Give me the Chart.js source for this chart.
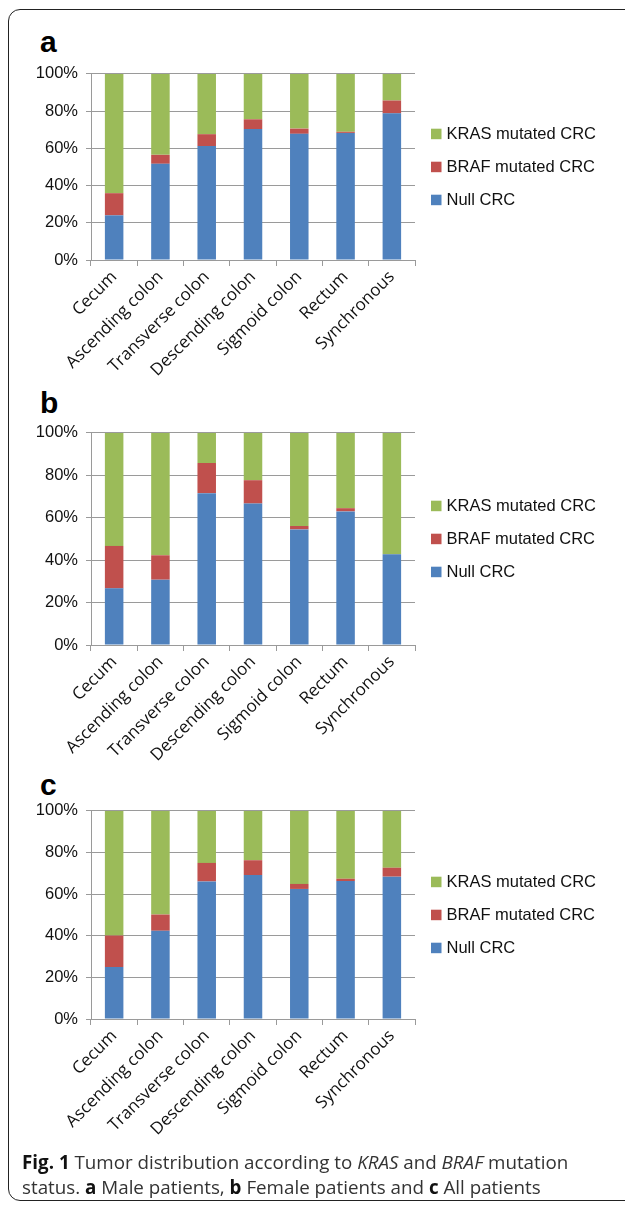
<!DOCTYPE html>
<html>
<head>
<meta charset="utf-8">
<script src="https://cdn.jsdelivr.net/npm/chart.js@4/dist/chart.umd.min.js"></script>
<style>
  html, body { margin: 0; padding: 0; background: #fff; }
  body { width: 625px; height: 1207px; position: relative; overflow: hidden; }
  .frame { position: absolute; left: 8px; top: 9px; width: 700px; height: 1192px;
           border: 1.5px solid #222; border-radius: 12px; box-sizing: border-box; }
  canvas { position: absolute; left: 0; }
  .letter { position: absolute; left: 40px; font: bold 30px "Liberation Sans", Arial, sans-serif;
            line-height: 30px; color: #000; }
  .caption { position: absolute; left: 22px; top: 1150px; width: 610px; white-space: nowrap;
             font: 18.8px "Open Sans", sans-serif; line-height: 25px; color: #333; }
  .caption b { color: #111; }
</style>
</head>
<body>
<div class="frame"></div>
<div class="letter" style="top:27px">a</div>
<div class="letter" style="top:388px">b</div>
<div class="letter" style="top:770px">c</div>
<canvas id="ca" width="625" height="360" style="top:56px"></canvas>
<canvas id="cb" width="625" height="380" style="top:415px"></canvas>
<canvas id="cc" width="625" height="380" style="top:793px"></canvas>
<div class="caption"><b>Fig. 1</b> Tumor distribution according to <i>KRAS</i> and <i>BRAF</i> mutation<br>status. <b>a</b> Male patients, <b>b</b> Female patients and <b>c</b> All patients</div>
<script>
const categories = ["Cecum", "Ascending colon", "Transverse colon", "Descending colon", "Sigmoid colon", "Rectum", "Synchronous"];
const seriesNames = ["Null CRC", "BRAF mutated CRC", "KRAS mutated CRC"];
const seriesColors = ["#4F81BD", "#C0504D", "#9BBB59"];
const yTicks = [0, 20, 40, 60, 80, 100];

// a: Male patients (%)
const maleNull = [24.0, 51.7, 61.2, 70.4, 67.8, 68.3, 78.8];
const maleBraf = [11.9, 4.8, 6.4, 5.2, 2.8, 0.6, 6.9];
const maleKras = [64.1, 43.5, 32.4, 24.4, 29.4, 31.1, 14.3];
// b: Female patients (%)
const femaleNull = [26.7, 30.8, 71.6, 66.7, 54.5, 63.0, 42.8];
const femaleBraf = [20.0, 11.5, 14.2, 11.0, 1.6, 1.5, 0.0];
const femaleKras = [53.3, 57.7, 14.2, 22.3, 43.9, 35.5, 57.2];
// c: All patients (%)
const allNull = [25.0, 42.4, 66.1, 69.2, 62.5, 66.3, 68.4];
const allBraf = [15.1, 7.8, 8.9, 7.1, 2.4, 1.1, 4.3];
const allKras = [59.9, 49.8, 25.0, 23.7, 35.1, 32.6, 27.3];

const tickFont = { family: "'Liberation Sans', Arial, sans-serif", size: 16.5 };
const catFont = { family: "'Open Sans', sans-serif", size: 17 };
const gridColor = "#9a9a9a";

const legendPlugin = {
  id: 'sideLegend',
  afterDraw(chart) {
    const ctx = chart.ctx;
    const ca = chart.chartArea;
    const mid = (ca.top + ca.bottom) / 2;
    const ds = chart.data.datasets.slice().reverse();
    ctx.save();
    ctx.font = "16.5px 'Liberation Sans', Arial, sans-serif";
    ctx.textBaseline = 'middle';
    ctx.textAlign = 'left';
    ds.forEach((d, i) => {
      const y = mid + (i - 1) * 33;
      ctx.fillStyle = d.backgroundColor;
      ctx.fillRect(431, y - 5.25, 10.5, 10.5);
      ctx.fillStyle = '#111';
      ctx.fillText(d.label, 446.5, y + 1);
    });
    ctx.restore();
  }
};

function makeChart(id, values, padTop, xHeight) {
  const datasets = values.map((v, i) => ({
    label: seriesNames[i],
    data: v,
    backgroundColor: seriesColors[i],
    borderWidth: 0,
    barPercentage: 0.4,
    categoryPercentage: 1.0
  }));
  return new Chart(document.getElementById(id), {
    type: 'bar',
    data: { labels: categories, datasets },
    plugins: [legendPlugin],
    options: {
      responsive: false,
      animation: false,
      devicePixelRatio: 1,
      layout: { padding: { top: padTop, right: 210, left: 0, bottom: 0 } },
      plugins: { legend: { display: false }, tooltip: { enabled: false } },
      scales: {
        x: {
          stacked: true,
          offset: true,
          afterFit(s) { s.height = xHeight; },
          grid: { offset: true, drawOnChartArea: false, drawTicks: true, tickLength: 6, color: gridColor, lineWidth: 1 },
          border: { display: true, color: gridColor, width: 1 },
          ticks: { font: catFont, color: '#111', minRotation: 45, maxRotation: 45, autoSkip: false, padding: 1 }
        },
        y: {
          stacked: true,
          min: 0, max: 100,
          afterFit(s) { s.width = 91; },
          afterBuildTicks(s) { s.ticks = yTicks.map(v => ({ value: v })); },
          grid: { color: gridColor, lineWidth: 1, drawTicks: true, tickLength: 5 },
          border: { display: true, color: gridColor, width: 1 },
          ticks: { font: tickFont, color: '#111', padding: 8, callback: v => v + '%' }
        }
      }
    }
  });
}

makeChart('ca', [maleNull, maleBraf, maleKras], 12, 156);
makeChart('cb', [femaleNull, femaleBraf, femaleKras], 12, 150);
makeChart('cc', [allNull, allBraf, allKras], 12, 154);
</script>
</body>
</html>
